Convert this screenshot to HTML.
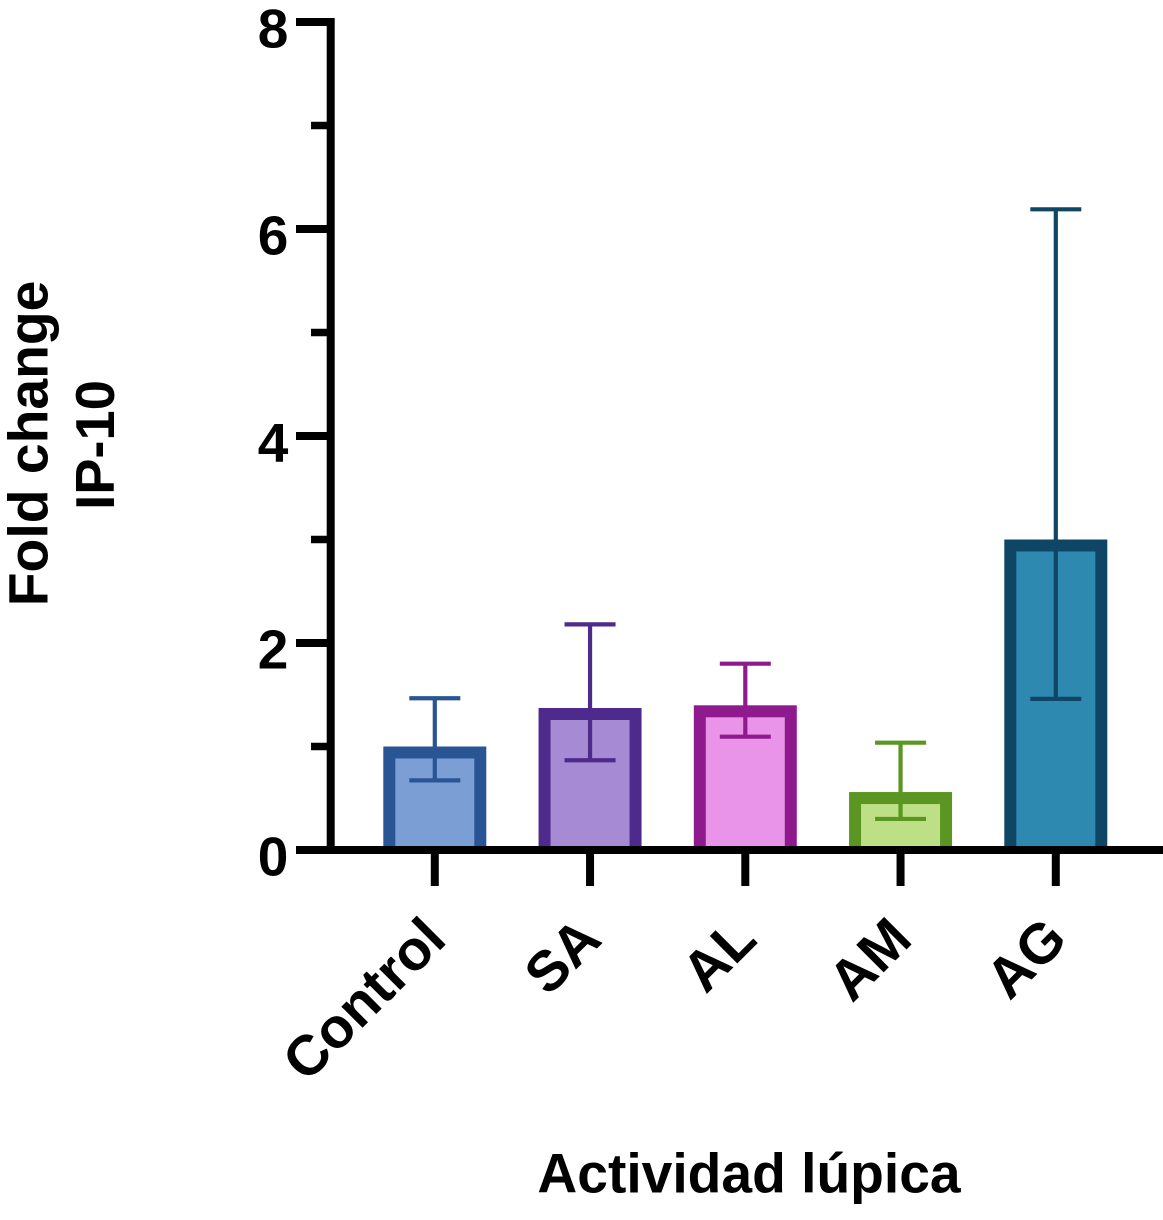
<!DOCTYPE html>
<html>
<head>
<meta charset="utf-8">
<style>
html,body{margin:0;padding:0;background:#fff;}
body{width:1163px;height:1220px;overflow:hidden;position:relative;}
svg{display:block;}
text{font-family:"Liberation Sans",sans-serif;font-weight:700;fill:#000;}
</style>
</head>
<body>
<svg id="chart" width="1163" height="1220" viewBox="0 0 1163 1220" xmlns="http://www.w3.org/2000/svg"></svg>
<script>
const categories = ['Control', 'SA', 'AL', 'AM', 'AG'];
const means = [1.0, 1.372, 1.398, 0.56, 3.0];
const errUpper = [1.466, 2.18, 1.8, 1.037, 6.19];
const errLower = [0.673, 0.867, 1.095, 0.3, 1.46];
const strokeColors = ['#2a5595', '#4e2a8c', '#8f1a8e', '#5a9621', '#0f4666'];
const fillColors = ['#7b9fd4', '#a68bd4', '#e994e8', '#bddf85', '#2e89b0'];
const yTickValues = [0, 1, 2, 3, 4, 5, 6, 7, 8];
const yTickLabels = ['0', '', '2', '', '4', '', '6', '', '8'];

const svg = document.getElementById('chart');
const NS = 'http://www.w3.org/2000/svg';
function y(v){ return 850 - v * 103.5; }
function x(i){ return 434.8 + i * 155.25; }
function make(tag, attrs, parent){
  const el = document.createElementNS(NS, tag);
  for (const k in attrs) el.setAttribute(k, attrs[k]);
  (parent || svg).appendChild(el);
  return el;
}
const barW = 103, sw = 12, capHalf = 25.5, errW = 4.2;

categories.forEach((c, i) => {
  const g = make('g', {});
  
  
  const bar = make('rect', {x: x(i) - barW / 2, y: y(means[i]), width: barW, height: y(0) - y(means[i]), fill: strokeColors[i]}, g);
  
  
  const inner = make('rect', {x: x(i) - barW / 2 + sw, y: y(means[i]) + sw, width: barW - 2 * sw, height: Math.max(0, y(0) - y(means[i]) - sw), fill: fillColors[i]}, g);
  
  
  const stem = make('line', {x1: x(i), x2: x(i), y1: y(errUpper[i]), y2: y(errLower[i]), stroke: strokeColors[i], 'stroke-width': errW}, g);
  
  
  const capU = make('line', {x1: x(i) - capHalf, x2: x(i) + capHalf, y1: y(errUpper[i]), y2: y(errUpper[i]), stroke: strokeColors[i], 'stroke-width': errW}, g);
  
  
  const capL = make('line', {x1: x(i) - capHalf, x2: x(i) + capHalf, y1: y(errLower[i]), y2: y(errLower[i]), stroke: strokeColors[i], 'stroke-width': errW}, g);
  
  
});

const yAxis = make('line', {x1: 330.7, x2: 330.7, y1: y(8) - 4, y2: y(0), stroke: '#000', 'stroke-width': 8});


const xAxis = make('line', {x1: 296, x2: 1163, y1: y(0), y2: y(0), stroke: '#000', 'stroke-width': 8});



yTickValues.forEach((v, i) => {
  const major = yTickLabels[i] !== '';
  const tick = make('line', {x1: major ? 296 : 311, x2: 330, y1: y(v), y2: y(v), stroke: '#000', 'stroke-width': major ? 8 : 7.6});
  
  
  if (major) {
    const t = make('text', {x: 273, y: y(v) + 25.5, 'font-size': 55, 'text-anchor': 'middle'});
    t.textContent = yTickLabels[i];
    
    
  }
});

categories.forEach((c, i) => {
  const tick = make('line', {x1: x(i), x2: x(i), y1: y(0), y2: 886, stroke: '#000', 'stroke-width': 8});
  
  
  const t = make('text', {x: x(i) + 1, y: 929, 'font-size': 56.5, 'text-anchor': 'end', transform: 'rotate(-45 ' + (x(i) + 1) + ' 929)', dy: 18});
  t.textContent = c;
  
  
});
</script>
<svg width="1163" height="1220" viewBox="0 0 1163 1220" style="position:absolute;left:0;top:0;pointer-events:none" xmlns="http://www.w3.org/2000/svg">
  <text transform="translate(47.7 443.4) rotate(-90)" font-size="55.3" text-anchor="middle">Fold change</text>
  <text transform="translate(114 445) rotate(-90)" font-size="54.3" text-anchor="middle">IP-10</text>
  <text x="749" y="1192.7" font-size="55.2" text-anchor="middle">Actividad lúpica</text>
</svg>
</body>
</html>
